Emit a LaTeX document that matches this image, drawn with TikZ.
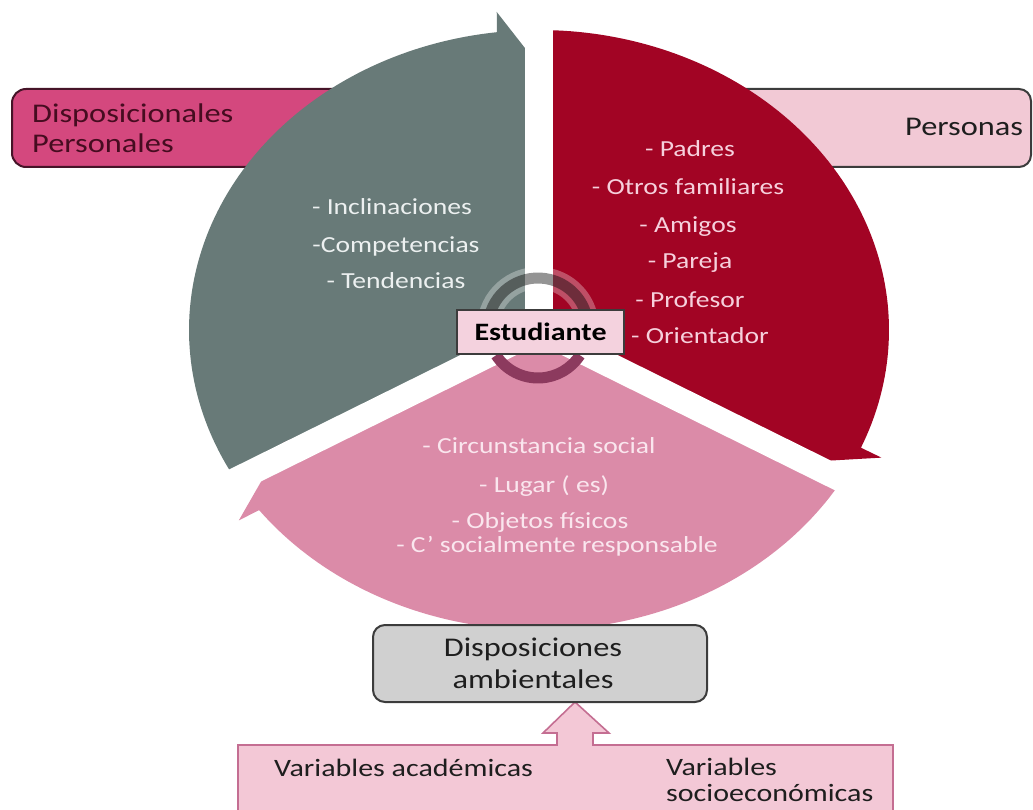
\documentclass[tikz,border=0pt]{standalone}
\usepackage{fontspec}
\setmainfont{Carlito}[FakeStretch=1.2]
\usetikzlibrary{calc}
\definecolor{slate}{RGB}{104,122,120}
\definecolor{wine}{RGB}{162,4,36}
\definecolor{rose}{RGB}{219,139,168}
\definecolor{magbox}{RGB}{212,72,126}
\definecolor{magedge}{RGB}{70,20,40}
\definecolor{lightpink}{RGB}{242,201,213}
\definecolor{studfill}{RGB}{244,210,222}
\definecolor{graybox}{RGB}{208,208,208}
\definecolor{bottomedge}{RGB}{196,110,146}
\definecolor{bottomfill}{RGB}{243,200,214}
\definecolor{darktext}{RGB}{30,30,30}
\definecolor{maroontext}{RGB}{70,12,32}
\definecolor{edgegray}{RGB}{60,60,60}
\definecolor{graytxt}{RGB}{236,240,240}
\definecolor{redtxt}{RGB}{246,208,220}
\definecolor{rosetxt}{RGB}{250,230,238}
\definecolor{ringpink}{RGB}{140,58,94}
\begin{document}
\begin{tikzpicture}[x=1pt,y=-1pt,
  lbl/.style={font=\fontsize{27}{32}\selectfont, text=darktext, inner sep=0pt, anchor=base west},
  item/.style={font=\fontsize{23}{26}\selectfont, inner sep=0pt, anchor=base},
  grayitem/.style={item, text=graytxt},
  reditem/.style={item, text=redtxt},
  roseitem/.style={item, text=rosetxt},
  botlbl/.style={font=\fontsize{25}{30}\selectfont, text=darktext, inner sep=0pt, anchor=base west},
]
\useasboundingbox (0,0) rectangle (1033,810);

% side boxes (partly hidden by the cycle)
\draw[fill=magbox, draw=magedge, line width=2pt, rounded corners=14pt] (12,89) rectangle (420,167);
\node[lbl, text=maroontext] (dp1) at (32,123) {Disposicionales};
\node[lbl, text=maroontext] (dp2) at (32,153) {Personales};
\draw[fill=lightpink, draw=edgegray, line width=2pt, rounded corners=12pt] (660,89) rectangle (1031,167);
\node[lbl] (pers) at (905,136) {Personas};

% cycle
\begin{scope}[shift={(539,330)}, x=350pt, y=300pt]
  \fill[slate] (0,0) -- plot[domain=210:96.9, samples=90] (\x:1) -- (96.5:1.067) -- (87.2:0.821) -- cycle;
  \fill[wine] (0,0) -- plot[domain=90:-23.1, samples=90] (\x:1) -- (-23.5:1.067) -- (-32.8:0.821) -- cycle;
  \fill[rose] (0,0) -- plot[domain=-30:-143.1, samples=90] (\x:1) -- (-143.5:1.067) -- (-152.8:0.821) -- cycle;
  \foreach \a in {90,-30,210}
    \fill[white] ($(\a+90:0.04)$) -- ($(\a:1.3)+(\a+90:0.04)$) -- ($(\a:1.3)+(\a-90:0.04)$) -- ($(\a-90:0.04)$) -- cycle;
\end{scope}

% central ring
\coordinate (rc) at (538,328);
\draw[white, opacity=0.3, line width=22pt] (rc) ++(166:50pt) arc[start angle=166, end angle=17, radius=50pt];
\draw[black, opacity=0.42, line width=11pt] (rc) ++(166:50pt) arc[start angle=166, end angle=17, radius=50pt];
\draw[ringpink, line width=11pt] (rc) ++(213:50pt) arc[start angle=213, end angle=327, radius=50pt];

% items
\node[grayitem] (g1) at (392,215) {- Inclinaciones};
\node[grayitem] (g2) at (396,253) {-Competencias};
\node[grayitem] (g3) at (396,289) {- Tendencias};

\node[reditem] (r1) at (690,157) {- Padres};
\node[reditem] (r2) at (688,195) {- Otros familiares};
\node[reditem] (r3) at (688,233) {- Amigos};
\node[reditem] (r4) at (690,269) {- Pareja};
\node[reditem] (r5) at (690,307) {- Profesor};
\node[reditem] (r6) at (700,343) {- Orientador};

\node[roseitem] (p1) at (539,453) {- Circunstancia social};
\node[roseitem] (p2) at (544,492) {- Lugar ( es)};
\node[roseitem] (p3) at (540,528) {- Objetos físicos};
\node[roseitem] (p4) at (557,552) {- C’ socialmente responsable};

% centre
\node[draw=edgegray, fill=studfill, line width=1.6pt, minimum width=167pt, minimum height=44pt, inner sep=0pt,
      font=\bfseries\fontsize{25}{28}\selectfont, text=black] (est) at (540.5,332) {Estudiante};

% bottom
\draw[fill=bottomfill, draw=bottomedge, line width=1.6pt]
  (238,820) -- (238,745) -- (557,745) -- (557,733) -- (543,733) -- (575,702) -- (609,733) -- (593,733)
  -- (593,745) -- (893,745) -- (893,820) -- cycle;
\node[draw=edgegray, fill=graybox, line width=2pt, rounded corners=12pt, minimum width=334pt, minimum height=77pt,
      inner sep=0pt] (amb) at (540,663.5) {};
\node[font=\fontsize{27}{32}\selectfont, text=darktext, inner sep=0pt, anchor=base] (amb1) at (533,656) {Disposiciones};
\node[font=\fontsize{27}{32}\selectfont, text=darktext, inner sep=0pt, anchor=base] (amb2) at (533,688) {ambientales};

\node[botlbl] (va) at (274,776) {Variables académicas};
\node[botlbl] (vs1) at (666,775) {Variables};
\node[botlbl] (vs2) at (666,801) {socioeconómicas};
\end{tikzpicture}
\end{document}
